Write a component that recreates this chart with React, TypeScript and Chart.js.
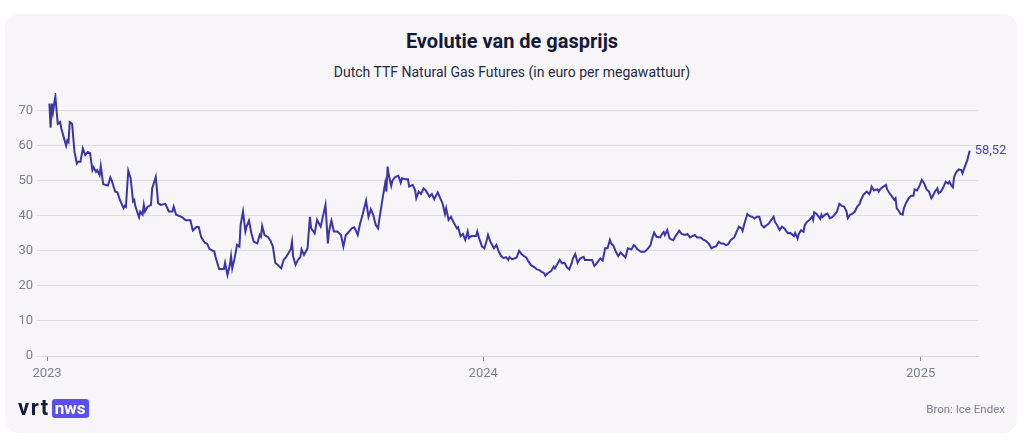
import React, { useEffect, useRef } from "react";
import { Chart, registerables } from "chart.js";

Chart.register(...registerables);

// Days since 1 January 2023 for each observation
const days: number[] = [
  2, 3, 4, 5, 6, 7, 9, 11, 12, 16,
  17, 18, 19, 21, 23, 25, 26, 28, 30, 32,
  34, 36, 38, 39, 41, 42, 44, 45, 47, 51,
  53, 54, 57, 59, 61, 64, 65, 66, 68, 70,
  72, 73, 74, 77, 78, 80, 81, 82, 84, 87,
  88, 91, 93, 95, 99, 102, 105, 106, 108, 113,
  116, 120, 122, 125, 127,
  129, 132, 134, 136, 140, 141, 144, 148, 149, 151,
  153, 154, 155, 157, 159, 161, 162, 164, 166, 167,
  169, 171, 173, 176, 178, 179, 180, 182, 185, 187,
  189, 191, 194, 196, 198, 200, 202, 204, 205, 206,
  208, 210, 212, 213, 215, 218, 220, 221, 224, 226,
  229, 233, 235, 236, 238, 240, 243, 246, 248, 250,
  252, 255, 257,
  258, 260, 262, 264, 267, 269, 271, 273, 275, 277,
  278, 281, 283, 284, 285, 286, 288, 289, 291, 293,
  294, 296, 297, 299, 302, 303, 306, 308, 309, 311,
  313, 315, 317, 320, 322, 324, 325, 327, 329, 331,
  333, 334, 336, 338, 340, 343, 344, 346, 348, 350,
  352, 353, 355, 359, 360, 362, 364, 366, 368, 369,
  371, 374, 376, 378, 380, 382, 384, 386, 387,
  389, 391, 393, 395, 397, 399, 401, 403, 405, 408,
  410, 412, 414, 416, 417, 419, 422, 424, 425, 427,
  429, 431, 433, 435, 437, 439, 440, 442, 444, 446,
  449, 450, 453, 456, 458, 460, 462, 463, 465, 467,
  469, 471, 472, 474, 476, 478, 480, 482, 484, 486,
  489, 491, 492, 494, 497, 500, 503, 505, 506, 508,
  510, 513, 515,
  516, 517, 519, 521, 524, 526, 529, 531, 534, 536,
  538, 540, 542, 544, 547, 549, 551, 553, 554, 556,
  558, 560, 562, 564, 566, 568, 570, 572, 575, 577,
  579, 581, 582, 584, 586, 588, 590, 592, 594, 596,
  598, 600, 602, 604, 606, 608, 609, 611, 613, 615,
  617, 619, 620, 622, 625, 626, 628, 629, 631, 633,
  634, 636, 638, 640, 641, 642, 644, 647,
  648, 649, 651, 653, 655, 657, 659, 661, 663, 665,
  667, 669, 670, 672, 674, 676, 678, 680, 681, 683,
  685, 686, 688, 689, 690, 692, 693, 695, 696, 697,
  699, 702, 703, 705, 707, 709, 710, 711, 713, 714,
  716, 717, 719, 721, 723, 725, 726, 728, 730, 732,
  734, 736, 738, 740, 741, 743, 745, 746, 748, 750,
  752, 754, 755, 757, 758, 759, 761, 763, 765, 766,
  768, 770, 772,
];

// Price in euro per MWh
const prices: number[] = [
  72, 65.1, 72, 69.5, 72, 74, 66.2, 66.7, 64.8, 60,
  61.5, 61, 66.7, 66.2, 58.2, 54.9, 55.4, 55.4, 59.2, 57.3,
  58.2, 57.9, 53, 53.8, 52.5, 53, 51.6, 54.2, 49, 48.6,
  50.9, 50.2, 46.9, 46.6, 44.5, 42.2, 42.8, 42.5, 52.8, 50.7,
  44.1, 44.5, 42.6, 39.6, 41.2, 40.3, 43.1, 41.2, 42.5, 43.1,
  47.8, 51.1, 43.6, 43.1, 43.4, 41.2, 41.2, 42.6, 40.3, 39.6,
  38.7, 38.7, 35.8, 36.8, 36.8,
  33.9, 32.3, 32, 30.5, 29.8, 28.3, 24.8, 24.8, 26.6, 23.1,
  26, 28.5, 25, 27.9, 31.7, 31.2, 37.4, 41.2, 35.5, 36.9,
  38.6, 35, 32.6, 32.1, 34.5, 34, 37.1, 34.5, 33.9, 32.9,
  31.2, 26.6, 25.7, 25, 27.4, 28.2, 29.3, 30.5, 32.6, 28.3,
  26, 27.4, 28.2, 30.4, 28.8, 30.7, 39.7, 36.4, 35, 38.8,
  36.9, 43.1, 32.1, 35.5, 38.6, 35.5, 35.5, 34.5, 31.2, 34.5,
  35.2, 36.4, 36.7,
  36.1, 34.5, 37.8, 40.2, 44.3, 39.7, 41.8, 40.2, 37.4, 36.4,
  38.8, 45.4, 49.4, 46.9, 54, 51.6, 48.5, 50, 50.9, 51.3,
  51.4, 49.4, 50.7, 50.5, 50.4, 48.3, 48.8, 47.3, 45, 46.9,
  46.2, 47.8, 47.2, 45.4, 46.2, 44.7, 45.4, 46.6, 45, 43.5,
  40.5, 42.1, 38.8, 39.7, 38.3, 36.4, 36.7, 34.2, 34.8, 33.1,
  35.5, 33.6, 34.2, 34.2, 35.5, 33.1, 31.2, 30.7, 33.1, 34.5,
  32.6, 30.7, 31.7, 29.8, 28.5, 27.9, 28.2, 27.4, 28.2,
  27.6, 27.8, 28.1, 30, 29.1, 28.5, 28.1, 26.9, 25.9, 25.3,
  24.7, 24.5, 24, 23.6, 22.9, 23.6, 24.3, 25.5, 25, 26.2,
  27.4, 26.4, 26.6, 25.3, 24.7, 26.4, 27.8, 29.1, 26.6, 27.8,
  28.3, 27.4, 27.4, 27.4, 25.7, 26.4, 27.4, 27.8, 27.2, 30.7,
  30.7, 33.1, 32.1, 31.4, 29.7, 28.5, 29.5, 28.8, 28.1, 30.7,
  30.4, 31.6, 31.4, 30.4, 29.7, 29.7, 30.7, 31.6, 33.1, 35.2,
  34, 33.8, 35,
  35.4, 34.5, 35.9, 33.5, 33, 34.2, 35.7, 34.8, 34.5, 34.8,
  33.8, 34.2, 34.5, 33.8, 33.8, 33.2, 32.9, 32.3, 31.9, 30.7,
  31.1, 31.3, 32.6, 32.1, 32.1, 31.6, 31.9, 33, 33.8, 35.4,
  36.9, 36.4, 35.7, 38.3, 40.5, 39.9, 39.7, 39.2, 39.7, 39.7,
  37.3, 36.7, 37.3, 37.8, 38.8, 39.7, 38.3, 37.3, 35.9, 36.9,
  36.4, 35.4, 35, 35.1, 34.2, 35.1, 33.5, 34.8, 35.9, 35.4,
  37.3, 38.3, 38.8, 39.7, 38.8, 41, 40.5, 39.1,
  40.3, 39.6, 40.3, 40.6, 39.3, 39.6, 40.3, 41.2, 43.4, 42.8,
  42.6, 41.2, 39.3, 40.3, 40.6, 41.2, 42.6, 43.4, 44.5, 45.9,
  46.6, 46.9, 46.2, 46.9, 48.3, 47.2, 47.4, 47.5, 46.9, 47.5,
  48.1, 48.8, 47.5, 46.4, 45.5, 44.5, 45, 42.2, 41.2, 40.6,
  40.3, 42.2, 43.8, 45, 45.7, 45.7, 47.5, 47.2, 48.5, 50.2,
  49.2, 47.5, 46.9, 45, 45.5, 46.9, 47.8, 46.4, 46.9, 48.1,
  49.7, 49.2, 49.7, 48.5, 48.1, 51.1, 52.5, 53.2, 53, 52.1,
  54, 55.8, 58.52,
];

const yearTickDays: number[] = [0, 365, 731];
const yearLabels: string[] = ["2023", "2024", "2025"];
const yTicks: number[] = [0, 10, 20, 30, 40, 50, 60, 70];

const LINE = "#3b35a9";

const lastLabelPlugin = {
  id: "lastLabel",
  afterDatasetsDraw(chart: any) {
    const meta = chart.getDatasetMeta(0);
    const pts = meta.data;
    if (!pts.length) return;
    const p = pts[pts.length - 1];
    const v = prices[prices.length - 1];
    const ctx = chart.ctx;
    ctx.save();
    ctx.font = "13px Roboto";
    ctx.fillStyle = "#4d45bd";
    ctx.textAlign = "left";
    ctx.textBaseline = "middle";
    ctx.fillText(v.toFixed(2).replace(".", ","), p.x + 5, p.y);
    ctx.restore();
  },
};

function GasChart() {
  const ref = useRef<HTMLCanvasElement | null>(null);
  useEffect(() => {
    if (!ref.current) return;
    const chart = new Chart(ref.current, {
      type: "line",
      data: {
        datasets: [
          {
            data: days.map((d, i) => ({ x: d, y: prices[i] })),
            borderColor: LINE,
            borderWidth: 2,
            pointRadius: 0,
            tension: 0,
            fill: false,
          },
        ],
      },
      options: {
        animation: false,
        responsive: true,
        maintainAspectRatio: false,
        layout: { padding: { top: 93, right: 46, bottom: 62, left: 0 } },
        plugins: {
          legend: { display: false },
          tooltip: { enabled: false },
        },
        scales: {
          x: {
            type: "linear",
            min: 0,
            max: 779,
            afterBuildTicks: (scale: any) => {
              scale.ticks = yearTickDays.map((v) => ({ value: v }));
            },
            afterFit: (scale: any) => {
              scale.height = 30;
            },
            ticks: {
              callback: (v: any) => {
                const i = yearTickDays.indexOf(Number(v));
                return i >= 0 ? yearLabels[i] : "";
              },
              color: "#7c8092",
              font: { family: "Roboto", size: 13 },
              padding: 5,
              maxRotation: 0,
              autoSkip: false,
            },
            grid: {
              display: true,
              drawOnChartArea: false,
              drawTicks: true,
              tickLength: 5,
              color: "#80838f",
            },
            border: { display: true, color: "#d6d6dc" },
          },
          y: {
            min: 0,
            max: 75,
            afterBuildTicks: (scale: any) => {
              scale.ticks = yTicks.map((v) => ({ value: v }));
            },
            afterFit: (scale: any) => {
              scale.width = 47;
            },
            ticks: {
              color: "#7c8092",
              font: { family: "Roboto", size: 13 },
              padding: 4,
            },
            grid: {
              color: "#dcdce1",
              tickLength: 10,
              drawTicks: true,
            },
            border: { display: false },
          },
        },
      },
      plugins: [lastLabelPlugin],
    } as any);
    return () => chart.destroy();
  }, []);
  return <canvas ref={ref} />;
}

export default function App() {
  return (
    <div
      style={{
        position: "fixed",
        left: 0,
        top: 0,
        width: 1024,
        height: 448,
        background: "#ffffff",
        overflow: "hidden",
      }}
    >
      <div
        style={{
          position: "absolute",
          left: 5,
          top: 14,
          width: 1012,
          height: 419,
          borderRadius: 14,
          background: "#f7f5f7",
        }}
      />
      <div
        style={{
          position: "absolute",
          left: 0,
          top: 28,
          width: 1024,
          textAlign: "center",
          fontFamily: "Roboto",
          fontWeight: 700,
          fontSize: 20,
          lineHeight: "26px",
          color: "#141a3c",
          letterSpacing: "0px",
        }}
      >
        Evolutie van de gasprijs
      </div>
      <div
        style={{
          position: "absolute",
          left: 0,
          top: 63,
          width: 1024,
          textAlign: "center",
          fontFamily: "Roboto",
          fontSize: 14,
          lineHeight: "18px",
          color: "#262a45",
        }}
      >
        Dutch TTF Natural Gas Futures (in euro per megawattuur)
      </div>
      <div style={{ position: "absolute", left: 0, top: 0, width: 1024, height: 448 }}>
        <GasChart />
      </div>
      <div
        style={{
          position: "absolute",
          left: 18,
          top: 398,
          height: 20,
          display: "flex",
          alignItems: "center",
          fontFamily: "Roboto",
          fontWeight: 700,
        }}
      >
        <span style={{ fontSize: 22, color: "#141a3c", letterSpacing: "1.5px", lineHeight: "20px" }}>vrt</span>
        <span
          style={{
            marginLeft: 2,
            background: "#5a4ff0",
            color: "#ffffff",
            borderRadius: 3,
            fontSize: 17,
            lineHeight: "19px",
            width: 37,
            textAlign: "center",
            height: 19,
          }}
        >
          nws
        </span>
      </div>
      <div
        style={{
          position: "absolute",
          right: 19,
          top: 402,
          fontFamily: "Roboto",
          fontSize: 11.5,
          lineHeight: "14px",
          color: "#7b7f90",
        }}
      >
        Bron: Ice Endex
      </div>
    </div>
  );
}
